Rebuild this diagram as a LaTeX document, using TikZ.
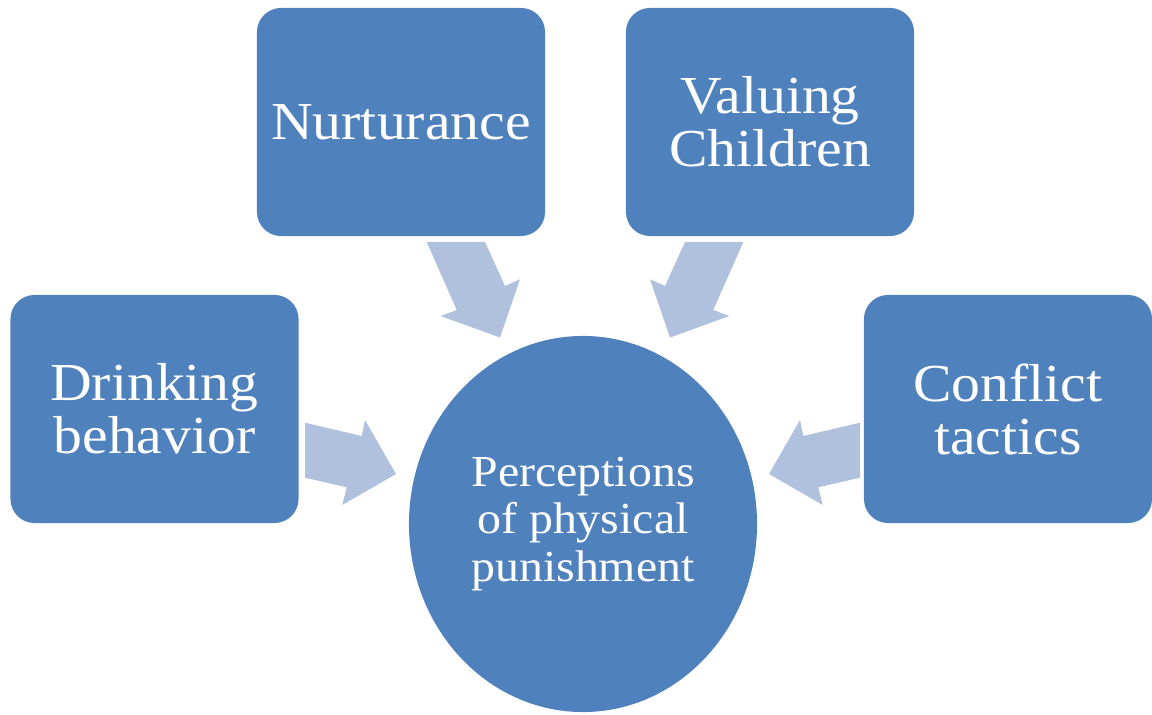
\documentclass[tikz,border=0pt]{standalone}
\usepackage{fontspec}
\setmainfont[FakeStretch=1.08]{Liberation Serif}
\usetikzlibrary{shapes.geometric}

\definecolor{kastenblau}{RGB}{79,129,189}
\definecolor{pfeilblau}{RGB}{176,193,221}

\tikzset{
	kasten/.style={fill=kastenblau, rounded corners=0.6cm, minimum width=7.2cm, minimum height=5.7cm, text=white, align=center, font=\fontsize{38}{37.7}\selectfont},
	mitte/.style={ellipse, fill=kastenblau, minimum width=8.7cm, minimum height=9.4cm, inner sep=0pt, text=white, align=center, font=\fontsize{31.5}{33.5}\selectfont},
	pfeil/.style={fill=pfeilblau}
}

\begin{document}
\begin{tikzpicture}[x=0.025cm, y=-0.025cm]
\useasboundingbox (0,0) rectangle (1152,715);

%Kaesten
\node[kasten] (nurt) at (401,122) {Nurturance};
\node[kasten] (valu) at (770,122) {Valuing\\Children};
\node[kasten] (drink) at (154.5,409) {Drinking\\behavior};
\node[kasten] (confl) at (1008,409) {Conflict\\tactics};

%Ellipse
\node[mitte] (percep) at (583,524) {Perceptions\\of physical\\punishment};

%Pfeile von der Seite (rechts gespiegelt)
\foreach \m/\s in {0/1, 1165/-1}
{
	\fill[pfeil] (\m+\s*305,422.7) -- (\m+\s*361.7,436) -- (\m+\s*365,420) -- (\m+\s*396,474)
		-- (\m+\s*342.3,505) -- (\m+\s*346.7,487.3) -- (\m+\s*305,477.7) -- cycle;
}

%Pfeile von oben (rechts gespiegelt)
\foreach \m/\s in {0/1, 1170/-1}
{
	\fill[pfeil] (\m+\s*426.7,242) -- (\m+\s*485,242) -- (\m+\s*505,286) -- (\m+\s*520,279.3)
		-- (\m+\s*500,337.5) -- (\m+\s*440.7,316) -- (\m+\s*456.7,310) -- cycle;
}

\end{tikzpicture}
\end{document}
